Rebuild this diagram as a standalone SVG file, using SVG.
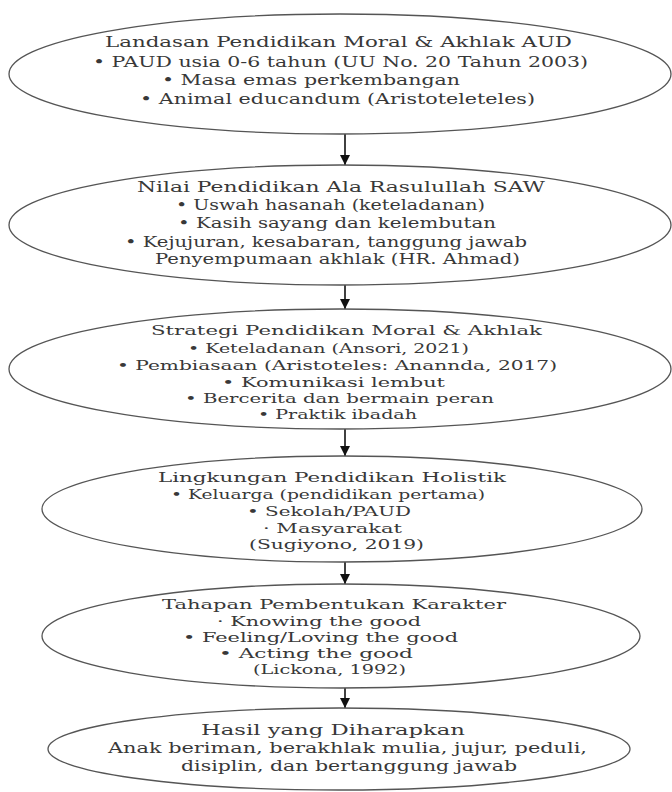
<svg xmlns="http://www.w3.org/2000/svg" width="672" height="792" viewBox="0 0 672 792">
<style>
  .bg { fill: #ffffff; }
  .node ellipse { fill: #ffffff; stroke: #555555; stroke-width: 1.3; }
  .node text { font-family: "DejaVu Serif", "Liberation Serif", serif; font-size: 14px; fill: #383838; }
  #n1 text { font-size: 15.5px; }
  #n2 text { font-size: 14.5px; }
  #n3 text { font-size: 13.5px; }
  #n4 text { font-size: 13.5px; }
  #n5 text { font-size: 13px; }
  #n6 text { font-size: 14.5px; }
  .conn line { stroke: #111111; stroke-width: 1.6; }
</style>
<defs>
  <marker id="ah" markerUnits="userSpaceOnUse" markerWidth="12" markerHeight="12" refX="10" refY="5" orient="auto">
    <path d="M0,0 L10,5 L0,10 Z" fill="#111111"/>
  </marker>
</defs>
<rect class="bg" x="0" y="0" width="672" height="792"/>

<g id="connectors" class="conn">
  <line x1="345" y1="134" x2="345" y2="165" marker-end="url(#ah)"/>
  <line x1="345" y1="285" x2="345" y2="309" marker-end="url(#ah)"/>
  <line x1="345" y1="429" x2="345" y2="456" marker-end="url(#ah)"/>
  <line x1="345" y1="562" x2="345" y2="584" marker-end="url(#ah)"/>
  <line x1="345" y1="688" x2="345" y2="708" marker-end="url(#ah)"/>
</g>

<g id="n1" class="node">
  <ellipse cx="340" cy="74" rx="331" ry="60"/>
  <text x="105" y="47" textLength="467" lengthAdjust="spacingAndGlyphs">Landasan Pendidikan Moral &amp; Akhlak AUD</text>
  <text x="93" y="66.5" textLength="495" lengthAdjust="spacingAndGlyphs">• PAUD usia 0-6 tahun (UU No. 20 Tahun 2003)</text>
  <text x="162" y="85" textLength="298" lengthAdjust="spacingAndGlyphs">• Masa emas perkembangan</text>
  <text x="140" y="103.5" textLength="395" lengthAdjust="spacingAndGlyphs">• Animal educandum (Aristoteleteles)</text>
</g>

<g id="n2" class="node">
  <ellipse cx="340" cy="225" rx="331" ry="60"/>
  <text x="137" y="191.5" textLength="408" lengthAdjust="spacingAndGlyphs">Nilai Pendidikan Ala Rasulullah SAW</text>
  <text x="176" y="210" textLength="309" lengthAdjust="spacingAndGlyphs">• Uswah hasanah (keteladanan)</text>
  <text x="178" y="228" textLength="318" lengthAdjust="spacingAndGlyphs">• Kasih sayang dan kelembutan</text>
  <text x="125" y="246.5" textLength="402" lengthAdjust="spacingAndGlyphs">• Kejujuran, kesabaran, tanggung jawab</text>
  <text x="155" y="264" textLength="365" lengthAdjust="spacingAndGlyphs">Penyempumaan akhlak (HR. Ahmad)</text>
</g>

<g id="n3" class="node">
  <ellipse cx="340" cy="369" rx="331" ry="60"/>
  <text x="151" y="335" textLength="391" lengthAdjust="spacingAndGlyphs">Strategi Pendidikan Moral &amp; Akhlak</text>
  <text x="188" y="353" textLength="281" lengthAdjust="spacingAndGlyphs">• Keteladanan (Ansori, 2021)</text>
  <text x="117" y="370" textLength="440" lengthAdjust="spacingAndGlyphs">• Pembiasaan (Aristoteles: Anannda, 2017)</text>
  <text x="222" y="387" textLength="223" lengthAdjust="spacingAndGlyphs">• Komunikasi lembut</text>
  <text x="185" y="403" textLength="309" lengthAdjust="spacingAndGlyphs">• Bercerita dan bermain peran</text>
  <text x="258" y="419" textLength="159" lengthAdjust="spacingAndGlyphs">• Praktik ibadah</text>
</g>

<g id="n4" class="node">
  <ellipse cx="342" cy="509" rx="300" ry="53"/>
  <text x="158" y="481.5" textLength="348" lengthAdjust="spacingAndGlyphs">Lingkungan Pendidikan Holistik</text>
  <text x="171" y="499" textLength="314" lengthAdjust="spacingAndGlyphs">• Keluarga (pendidikan pertama)</text>
  <text x="247" y="515.5" textLength="164" lengthAdjust="spacingAndGlyphs">• Sekolah/PAUD</text>
  <text x="263" y="532.5" textLength="139" lengthAdjust="spacingAndGlyphs">· Masyarakat</text>
  <text x="249" y="549" textLength="175" lengthAdjust="spacingAndGlyphs">(Sugiyono, 2019)</text>
</g>

<g id="n5" class="node">
  <ellipse cx="341" cy="636" rx="299" ry="52"/>
  <text x="162" y="609" textLength="344" lengthAdjust="spacingAndGlyphs">Tahapan Pembentukan Karakter</text>
  <text x="217" y="626" textLength="204" lengthAdjust="spacingAndGlyphs">· Knowing the good</text>
  <text x="183" y="641.5" textLength="275" lengthAdjust="spacingAndGlyphs">• Feeling/Loving the good</text>
  <text x="219" y="657.5" textLength="194" lengthAdjust="spacingAndGlyphs">• Acting the good</text>
  <text x="253" y="674" textLength="153" lengthAdjust="spacingAndGlyphs">(Lickona, 1992)</text>
</g>

<g id="n6" class="node">
  <ellipse cx="339" cy="749" rx="291" ry="41"/>
  <text x="201" y="735" textLength="264" lengthAdjust="spacingAndGlyphs">Hasil yang Diharapkan</text>
  <text x="108" y="753" textLength="479" lengthAdjust="spacingAndGlyphs">Anak beriman, berakhlak mulia, jujur, peduli,</text>
  <text x="181" y="770.5" textLength="336" lengthAdjust="spacingAndGlyphs">disiplin, dan bertanggung jawab</text>
</g>
</svg>
